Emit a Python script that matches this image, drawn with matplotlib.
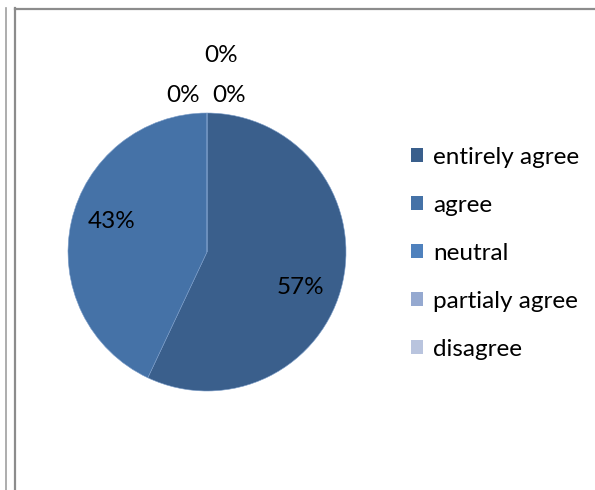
import matplotlib
matplotlib.use("Agg")
import matplotlib.pyplot as plt
from matplotlib.patches import Patch
from matplotlib.lines import Line2D

categories = ["entirely agree", "agree", "neutral", "partialy agree", "disagree"]
values = [57, 43, 0, 0, 0]
colors = ["#3A5F8C", "#4572A7", "#4F81BD", "#95A9D0", "#B9C4DE"]
# label positions (pixels from top-left) as laid out in the original
label_pos = [(300, 287), (112, 222), (183, 96), (229, 96), (221, 56)]

W, H = 595, 490
fig = plt.figure(figsize=(W / 100, H / 100), dpi=100)
plt.rcParams['font.family'] = ['Lato', 'DejaVu Sans']
FS = 17.5

cx, cy, r = 207, 252, 139
ax = fig.add_axes([(cx - r) / W, (H - cy - r) / H, 2 * r / W, 2 * r / H])
ax.pie(values, colors=colors, startangle=90, counterclock=False, radius=1,
       wedgeprops=dict(edgecolor="#7A9CC8", linewidth=0.4))
ax.set_xlim(-1, 1)
ax.set_ylim(-1, 1)
ax.set_aspect("equal")
ax.axis("off")

for v, (px, py) in zip(values, label_pos):
    fig.text(px / W, 1 - py / H, f"{v}%", ha="center", va="center",
             fontsize=FS, color="#000000")

handles = [Patch(facecolor=c, edgecolor="none") for c in colors]
leg = fig.legend(handles, categories, loc="upper left",
                 bbox_to_anchor=(411 / W, 1 - 147 / H), frameon=False,
                 fontsize=FS, handlelength=0.5, handleheight=0.5,
                 handletextpad=0.4, labelspacing=1.11, borderaxespad=0,
                 borderpad=0)

# frame lines
grey = "#8C8C8C"
fig.add_artist(Line2D([5.5 / W, 5.5 / W], [0, 1 - 8 / H], color="#A0A0A0", lw=1.2))
fig.add_artist(Line2D([15 / W, 15 / W], [0, 1 - 8.5 / H], color=grey, lw=1.6))
fig.add_artist(Line2D([14.5 / W, 1], [1 - 9 / H, 1 - 9 / H], color=grey, lw=1.6))

fig.savefig("out.png", dpi=100)
